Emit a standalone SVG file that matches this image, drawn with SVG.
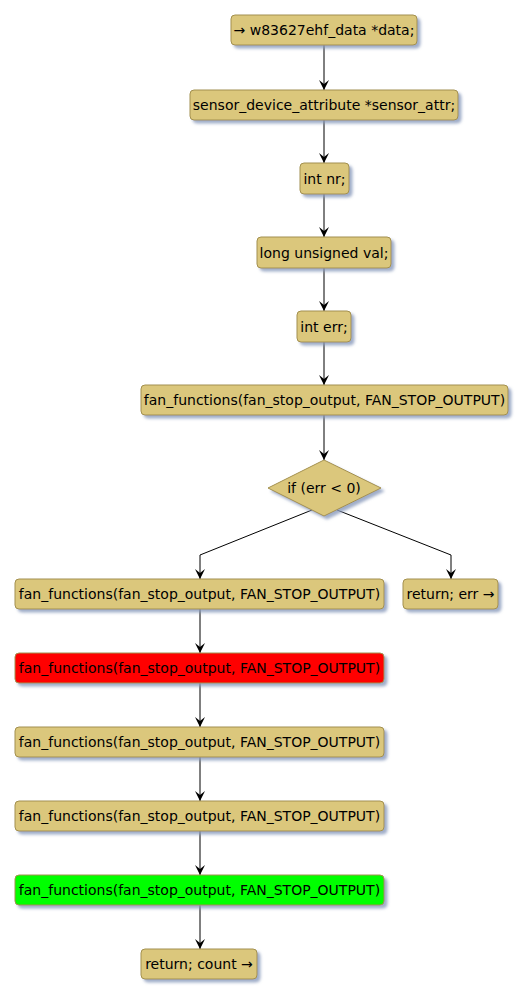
<svg xmlns="http://www.w3.org/2000/svg" width="527" height="998" viewBox="0 0 527 998">
<defs>
<filter id="sh" x="-10%" y="-10%" width="130%" height="150%">
<feOffset in="SourceAlpha" dx="3" dy="3" result="o"/>
<feGaussianBlur in="o" stdDeviation="1.5" result="b"/>
<feFlood flood-color="#8899bb" flood-opacity="0.8"/>
<feComposite in2="b" operator="in" result="s"/>
<feMerge><feMergeNode in="s"/><feMergeNode in="SourceGraphic"/></feMerge>
</filter>
<marker id="ah" viewBox="0 0 10 12" refX="10" refY="6" markerWidth="10" markerHeight="12" markerUnits="userSpaceOnUse" orient="auto">
<path d="M0,1 L10,6 L0,11 L4,6 Z" fill="#000"/>
</marker>
</defs>
<style>
.n{fill:#DBC77C;stroke:#A3904E;stroke-width:1;filter:url(#sh)}
.r{fill:#FF0000}
.g{fill:#00FF00}
text{font-family:"DejaVu Sans",sans-serif;font-size:14px;fill:#000;text-anchor:middle;dominant-baseline:central}
.c{stroke:#000;stroke-width:1;fill:none;marker-end:url(#ah)}
</style>
<rect width="527" height="998" fill="#fff"/>
<g id="connectors">
<path class="c" d="M324,45 V90"/>
<path class="c" d="M324,120 V163"/>
<path class="c" d="M324,194 V237"/>
<path class="c" d="M324,268 V311"/>
<path class="c" d="M324,342 V385"/>
<path class="c" d="M324,415 V460"/>
<path class="c" d="M312,510 L200,555 V579"/>
<path class="c" d="M337,510 L451,555 V579"/>
<path class="c" d="M200,609 V653"/>
<path class="c" d="M200,683 V727"/>
<path class="c" d="M200,757 V801"/>
<path class="c" d="M200,831 V875"/>
<path class="c" d="M200,905 V949"/>
</g>
<g id="n1"><rect class="n" x="231" y="15" width="186" height="30" rx="4"/><text x="324" y="30">→ w83627ehf_data *data;</text></g>
<g id="n2"><rect class="n" x="190" y="90" width="268" height="30" rx="4"/><text x="324" y="105">sensor_device_attribute *sensor_attr;</text></g>
<g id="n3"><rect class="n" x="300" y="163" width="49" height="31" rx="4"/><text x="324.5" y="178.5">int nr;</text></g>
<g id="n4"><rect class="n" x="257" y="237" width="134" height="31" rx="4"/><text x="324" y="252.5">long unsigned val;</text></g>
<g id="n5"><rect class="n" x="297" y="311" width="54" height="31" rx="4"/><text x="324" y="326.5">int err;</text></g>
<g id="n6"><rect class="n" x="141" y="385" width="367" height="30" rx="4"/><text x="324.5" y="400">fan_functions(fan_stop_output, FAN_STOP_OUTPUT)</text></g>
<g id="d1"><path class="n" d="M268,488 L324,460 L381,488 L324,516 Z"/><text x="324" y="488">if (err &lt; 0)</text></g>
<g id="n7"><rect class="n" x="15" y="579" width="369" height="30" rx="4"/><text x="199.5" y="594">fan_functions(fan_stop_output, FAN_STOP_OUTPUT)</text></g>
<g id="n8"><rect class="n" x="403" y="579" width="95" height="30" rx="4"/><text x="450.5" y="594">return; err →</text></g>
<g id="n9"><rect class="n r" x="15" y="653" width="369" height="30" rx="4"/><text x="199.5" y="668">fan_functions(fan_stop_output, FAN_STOP_OUTPUT)</text></g>
<g id="n10"><rect class="n" x="15" y="727" width="369" height="30" rx="4"/><text x="199.5" y="742">fan_functions(fan_stop_output, FAN_STOP_OUTPUT)</text></g>
<g id="n11"><rect class="n" x="15" y="801" width="369" height="30" rx="4"/><text x="199.5" y="816">fan_functions(fan_stop_output, FAN_STOP_OUTPUT)</text></g>
<g id="n12"><rect class="n g" x="15" y="875" width="369" height="30" rx="4"/><text x="199.5" y="890">fan_functions(fan_stop_output, FAN_STOP_OUTPUT)</text></g>
<g id="n13"><rect class="n" x="141" y="949" width="116" height="30" rx="4"/><text x="199" y="964">return; count →</text></g>
</svg>
